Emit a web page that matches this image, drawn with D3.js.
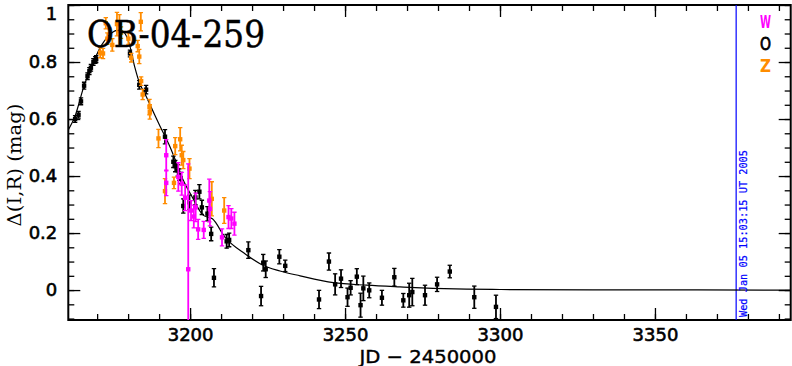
<!DOCTYPE html>
<html><head><meta charset="utf-8">
<script src="https://cdn.jsdelivr.net/npm/d3@7"></script>
<style>
html,body{margin:0;padding:0;background:#fff;}
svg{display:block;}
</style></head>
<body>
<script>
// ---- data ----
const xMajorTicks = [3200, 3250, 3300, 3350];
const yMajorTicks = [0, 0.2, 0.4, 0.6, 0.8, 1];
const yTickLabels = ["0", "0.2", "0.4", "0.6", "0.8", "1"];

const wJD  = [3192.3, 3192.3, 3196.2, 3197.3, 3198.4, 3199.4, 3200.3, 3201.2, 3201.8, 3202.6, 3204.4, 3206.2, 3206.4, 3210.3, 3212.4, 3213.3, 3214.3];
const wMag = [0.473, 0.376, 0.397, 0.373, 0.324, 0.073, 0.279, 0.258, 0.29, 0.213, 0.211, 0.314, 0.285, 0.185, 0.256, 0.251, 0.233];
const wErr = [0.055, 0.045, 0.05, 0.04, 0.045, 0.37, 0.035, 0.04, 0.05, 0.035, 0.03, 0.075, 0.06, 0.03, 0.04, 0.035, 0.04];

const oJD  = [3162.9, 3164.0, 3164.8, 3165.8, 3166.9, 3167.5, 3168.0, 3168.8, 3169.4, 3169.7, 3180.6, 3183.6, 3185.8, 3191.9, 3194.6, 3195.2, 3196.0, 3196.5, 3197.0, 3197.8, 3199.8, 3201.7, 3203.0, 3203.8, 3205.6, 3206.8, 3207.7, 3211.8, 3212.6, 3218.8, 3222.9, 3223.6, 3224.4, 3228.8, 3230.7, 3241.6, 3244.8, 3246.8, 3248.7, 3250.8, 3251.8, 3253.8, 3255.0, 3255.9, 3257.8, 3261.9, 3265.9, 3268.8, 3270.7, 3271.7, 3275.8, 3279.7, 3283.8, 3291.7, 3298.7];
const oMag = [0.60, 0.615, 0.662, 0.717, 0.75, 0.768, 0.78, 0.80, 0.807, 0.81, 0.83, 0.72, 0.703, 0.538, 0.45, 0.435, 0.42, 0.405, 0.393, 0.295, 0.308, 0.325, 0.345, 0.29, 0.268, 0.197, 0.043, 0.171, 0.176, 0.14, -0.021, 0.096, 0.073, 0.117, 0.085, -0.033, 0.10, 0.02, 0.04, -0.025, 0.008, 0.047, -0.053, 0.006, -0.001, -0.027, 0.045, -0.036, -0.018, -0.007, -0.018, 0.02, 0.065, -0.025, -0.059];
const oErr = [0.012, 0.012, 0.012, 0.012, 0.012, 0.012, 0.012, 0.012, 0.012, 0.012, 0.012, 0.015, 0.015, 0.025, 0.02, 0.02, 0.02, 0.02, 0.02, 0.025, 0.025, 0.025, 0.025, 0.025, 0.025, 0.024, 0.032, 0.024, 0.024, 0.029, 0.034, 0.029, 0.029, 0.025, 0.02, 0.032, 0.03, 0.037, 0.031, 0.032, 0.025, 0.028, 0.042, 0.043, 0.026, 0.026, 0.031, 0.024, 0.042, 0.048, 0.035, 0.025, 0.022, 0.039, 0.041];

const zJD  = [3171.0, 3171.9, 3172.8, 3173.3, 3174.9, 3176.4, 3177.2, 3177.7, 3180.1, 3181.0, 3183.1, 3183.6, 3184.1, 3184.2, 3184.7, 3186.9, 3187.0, 3189.8, 3191.9, 3194.8, 3195.2, 3196.8, 3197.3, 3197.8, 3199.8, 3207.0, 3211.0];
const zMag = [0.833, 0.83, 0.936, 0.882, 0.86, 0.933, 0.936, 0.903, 0.882, 0.815, 0.856, 0.819, 0.941, 0.733, 0.686, 0.642, 0.625, 0.532, 0.347, 0.376, 0.505, 0.529, 0.473, 0.456, 0.426, 0.32, 0.279];
const zErr = [0.018, 0.018, 0.02, 0.02, 0.022, 0.041, 0.03, 0.02, 0.02, 0.015, 0.02, 0.025, 0.032, 0.015, 0.018, 0.027, 0.025, 0.032, 0.044, 0.02, 0.03, 0.041, 0.035, 0.03, 0.035, 0.06, 0.045];

const modelJD  = [3160.7, 3162.9, 3165.8, 3168.8, 3171.5, 3174.0, 3176.0, 3177.5, 3179.0, 3180.6, 3182.2, 3183.9, 3184.9, 3187.5, 3190.3, 3193.5, 3195.7, 3197.8, 3200.5, 3204.3, 3207.2, 3211.3, 3217.9, 3223.0, 3229.0, 3235.5, 3246.2, 3257.0, 3267.7, 3278.4, 3289.2, 3300.0, 3330.0, 3393.8];
const modelMag = [0.562, 0.611, 0.717, 0.80, 0.86, 0.895, 0.91, 0.912, 0.90, 0.855, 0.78, 0.72, 0.70, 0.64, 0.575, 0.503, 0.444, 0.385, 0.33, 0.262, 0.25, 0.185, 0.126, 0.09, 0.067, 0.05, 0.026, 0.017, 0.011, 0.006, 0.003, 0.002, 0.001, 0.0];

const nowJD = 3376.2;
const nowLabel = "Wed Jan 05 15:03:15 UT 2005";
const title = "OB-04-259";
const legendNames = ["W", "O", "Z"];
const legendColors = ["#ff00ff", "#000000", "#ff8c00"];

// ---- drawing ----
const W = 792, H = 366;
const L = 68.3, R = 790.7, T = 5, B = 320;
const svg = d3.select("body").append("svg").attr("width", W).attr("height", H);
const x = d3.scaleLinear().domain([3160.7, 3393.8]).range([L, R]);
const y = d3.scaleLinear().domain([-0.105, 1.0]).range([B, T]);

svg.append("defs").append("clipPath").attr("id", "clip")
  .append("rect").attr("x", L).attr("y", T).attr("width", R - L).attr("height", B - T);

const font = "'DejaVu Sans', sans-serif";

const xMinor = d3.range(3170, 3391, 10);
const yMinor = d3.range(-0.1, 1.001, 0.05).map(v => Math.round(v * 100) / 100);

function styleAxis(g) {
  g.select(".domain").remove();
  g.selectAll(".tick line").attr("stroke", "#000").attr("stroke-width", 1.3);
  g.selectAll(".tick text").attr("font-family", font).attr("font-size", 18)
    .attr("fill", "#000").attr("stroke", "#000").attr("stroke-width", 0.6);
}

// bottom
svg.append("g").attr("transform", `translate(0,${B})`)
  .call(d3.axisBottom(x).tickValues(xMinor).tickSize(-6).tickFormat(""))
  .call(styleAxis);
svg.append("g").attr("transform", `translate(0,${B})`)
  .call(d3.axisBottom(x).tickValues(xMajorTicks).tickSizeInner(-12).tickSizeOuter(0).tickPadding(8).tickFormat(d3.format("d")))
  .call(styleAxis);
// top
svg.append("g").attr("transform", `translate(0,${T})`)
  .call(d3.axisTop(x).tickValues(xMinor).tickSize(-6).tickFormat(""))
  .call(styleAxis);
svg.append("g").attr("transform", `translate(0,${T})`)
  .call(d3.axisTop(x).tickValues(xMajorTicks).tickSize(-12).tickFormat(""))
  .call(styleAxis);
// left
svg.append("g").attr("transform", `translate(${L},0)`)
  .call(d3.axisLeft(y).tickValues(yMinor).tickSize(-6).tickFormat(""))
  .call(styleAxis);
const leftAx = svg.append("g").attr("transform", `translate(${L},0)`)
  .call(d3.axisLeft(y).tickValues(yMajorTicks).tickSizeInner(-12).tickSizeOuter(0).tickPadding(11)
    .tickFormat((d, i) => yTickLabels[i]))
  .call(styleAxis);
// keep the top label "1" inside the picture, as in the reference
leftAx.selectAll(".tick").filter(d => d === 1).select("text").attr("dy", "0.8em");
// right
svg.append("g").attr("transform", `translate(${R},0)`)
  .call(d3.axisRight(y).tickValues(yMinor).tickSize(-6).tickFormat(""))
  .call(styleAxis);
svg.append("g").attr("transform", `translate(${R},0)`)
  .call(d3.axisRight(y).tickValues(yMajorTicks).tickSize(-12).tickFormat(""))
  .call(styleAxis);

// frame
svg.append("rect").attr("x", L).attr("y", T).attr("width", R - L).attr("height", B - T)
  .attr("fill", "none").attr("stroke", "#000").attr("stroke-width", 2);

const plot = svg.append("g").attr("clip-path", "url(#clip)");

// now line
plot.append("line").attr("x1", x(nowJD)).attr("x2", x(nowJD)).attr("y1", T).attr("y2", B)
  .attr("stroke", "#0000ff").attr("stroke-width", 1.2);

// model curve
const model = modelJD.map((d, i) => [d, modelMag[i]]);
plot.append("path").datum(model)
  .attr("d", d3.line().x(d => x(d[0])).y(d => y(d[1])).curve(d3.curveMonotoneX))
  .attr("fill", "none").attr("stroke", "#000").attr("stroke-width", 1.2);

// series
function drawSeries(jd, mag, err, color) {
  const data = jd.map((d, i) => ({ t: d, m: mag[i], e: err[i] }));
  const g = plot.append("g");
  const pts = g.selectAll("g").data(data).join("g");
  pts.append("line").attr("x1", d => x(d.t)).attr("x2", d => x(d.t))
    .attr("y1", d => y(d.m - d.e)).attr("y2", d => y(d.m + d.e))
    .attr("stroke", color).attr("stroke-width", 1.8);
  pts.append("line").attr("x1", d => x(d.t) - 2.2).attr("x2", d => x(d.t) + 2.2)
    .attr("y1", d => y(d.m + d.e)).attr("y2", d => y(d.m + d.e))
    .attr("stroke", color).attr("stroke-width", 1.3);
  pts.append("line").attr("x1", d => x(d.t) - 2.2).attr("x2", d => x(d.t) + 2.2)
    .attr("y1", d => y(d.m - d.e)).attr("y2", d => y(d.m - d.e))
    .attr("stroke", color).attr("stroke-width", 1.3);
  pts.append("rect").attr("x", d => x(d.t) - 2.2).attr("y", d => y(d.m) - 2.2)
    .attr("width", 4.4).attr("height", 4.4).attr("fill", color);
}
drawSeries(oJD, oMag, oErr, legendColors[1]);
drawSeries(zJD, zMag, zErr, legendColors[2]);
drawSeries(wJD, wMag, wErr, legendColors[0]);

// title
svg.append("text").attr("x", 87).attr("y", 46.5).text(title)
  .attr("font-family", "'DejaVu Serif', serif").attr("font-size", 37)
  .attr("textLength", 178).attr("lengthAdjust", "spacingAndGlyphs")
  .attr("fill", "#000").attr("stroke", "#000").attr("stroke-width", 0.5);

// legend
legendNames.forEach((n, i) => {
  svg.append("text").attr("x", 765.5).attr("y", 27.5 + i * 22.3).text(n)
    .attr("text-anchor", "middle").attr("font-family", font)
    .attr("font-weight", i === 1 ? "normal" : "bold").attr("font-size", 18)
    .attr("textLength", 11).attr("lengthAdjust", "spacingAndGlyphs")
    .attr("fill", legendColors[i]).attr("stroke", legendColors[i]).attr("stroke-width", i === 1 ? 0.8 : 0);
});

// date label
svg.append("text").attr("transform", `translate(${x(nowJD) + 10.5},317) rotate(-90)`)
  .text(nowLabel).attr("font-family", "'DejaVu Sans Mono', monospace").attr("font-size", 10)
  .attr("textLength", 167).attr("lengthAdjust", "spacingAndGlyphs")
  .attr("fill", "#0000ff").attr("stroke", "#0000ff").attr("stroke-width", 0.2);

// axis titles
svg.append("text").attr("x", 428).attr("y", 363).text("JD \u2212 2450000")
  .attr("text-anchor", "middle").attr("font-family", font).attr("font-size", 18)
  .attr("textLength", 137).attr("lengthAdjust", "spacingAndGlyphs")
  .attr("fill", "#000").attr("stroke", "#000").attr("stroke-width", 0.4);
svg.append("text").attr("transform", "translate(21,165) rotate(-90)").text("\u0394(I,R) (mag)")
  .attr("text-anchor", "middle").attr("font-family", "'DejaVu Serif', serif").attr("font-size", 18)
  .attr("textLength", 123).attr("lengthAdjust", "spacingAndGlyphs")
  .attr("fill", "#000");
</script>
</body></html>
